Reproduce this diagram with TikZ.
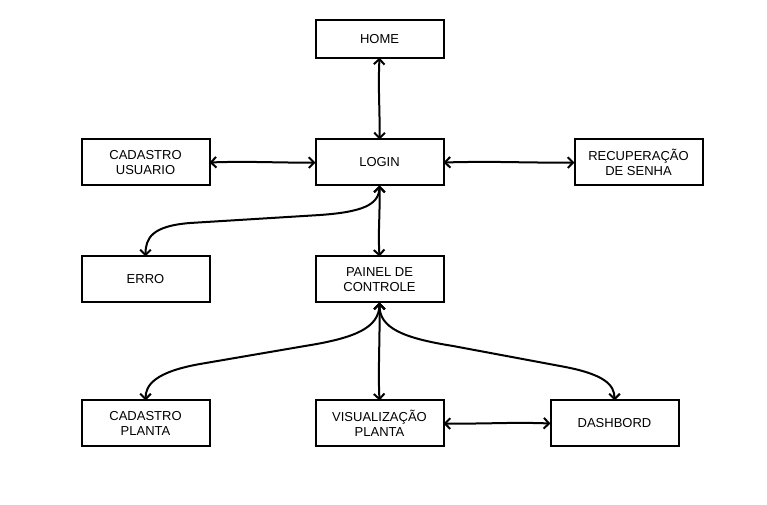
\documentclass[tikz,border=0pt]{standalone}
\usepackage{fontspec}
\setmainfont{Liberation Sans}
\usetikzlibrary{arrows.meta}
\begin{document}
\begin{tikzpicture}[x=0.75pt,y=-0.75pt,
  box/.style={draw=black,line width=1.5pt,fill=white,minimum width=96pt,minimum height=34.5pt,
    inner sep=0pt,outer sep=0pt,align=center,font=\fontsize{9.75}{11.5}\selectfont},
  link/.style={line width=1.5pt,{Straight Barb[length=4pt,width=8pt]}-{Straight Barb[length=4pt,width=8pt]}}]
\useasboundingbox[fill=white] (0,0) rectangle (767,505);
\node[box,minimum height=28pt] (home) at (379.5,39) {HOME};
\node[box] (login) at (379.5,162.5) {LOGIN};
\node[box] (cadu) at (145.5,162.5) {CADASTRO\\USUARIO};
\node[box] (recup) at (638.5,162.5) {RECUPERAÇÃO\\DE SENHA};
\node[box] (erro) at (145.5,279.5) {ERRO};
\node[box] (painel) at (379.5,279.5) {PAINEL DE\\CONTROLE};
\node[box] (cadp) at (145.5,423.5) {CADASTRO\\PLANTA};
\node[box] (vis) at (379.5,423.5) {VISUALIZAÇÃO\\PLANTA};
\node[box] (dash) at (614.5,423.5) {DASHBORD};
\draw[link] (home.south) .. controls (378,90) and (380,110) .. (login.north);
\draw[link] (cadu.east) .. controls (250,161) and (280,163) .. (login.west);
\draw[link] (login.east) .. controls (500,161) and (520,163) .. (recup.west);
\draw[link] (login.south) .. controls (380,220) and (378,230) .. (painel.north);
\draw[link] (login.south) .. controls (379,205) and (362,212) .. (320,215)
  -- (190,223) .. controls (152,226) and (145.5,238) .. (erro.north);
\draw[link] (painel.south) .. controls (380,340) and (378,370) .. (vis.north);
\draw[link] (painel.south) .. controls (379,328) and (355,338) .. (305,346)
  -- (200,364) .. controls (155,372) and (145.5,385) .. (cadp.north);
\draw[link] (painel.south) .. controls (379,328) and (403,338) .. (453,346)
  -- (560,366) .. controls (605,374) and (614.5,385) .. (dash.north);
\draw[link] (vis.east) .. controls (490,424) and (510,422) .. (dash.west);
\end{tikzpicture}
\end{document}
